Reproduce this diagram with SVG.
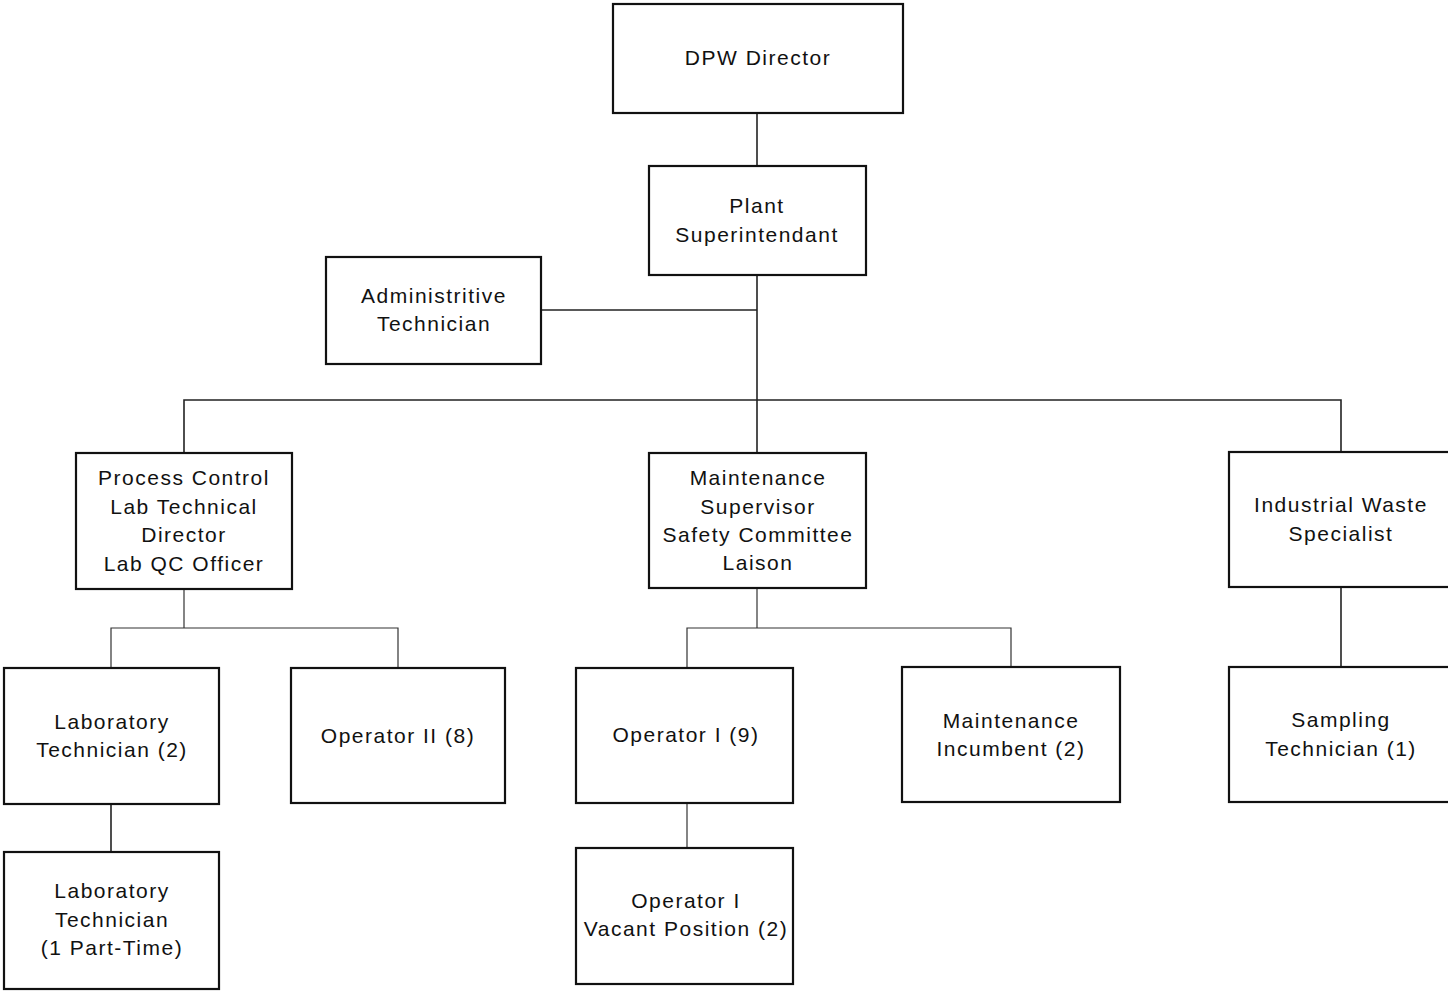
<svg xmlns="http://www.w3.org/2000/svg" width="1448" height="991" viewBox="0 0 1448 991">
<style>
.box{fill:#fff;stroke:#111;stroke-width:2.2}
.t{font-family:"Liberation Sans",Arial,sans-serif;font-size:21px;letter-spacing:1.5px;fill:#111;text-anchor:middle}
.c{fill:none;stroke:#222;stroke-width:1.6}
.c2{fill:none;stroke:#333;stroke-width:1.2}
</style>
<rect width="1448" height="991" fill="#fff"/>
<g id="connectors">
<path class="c" d="M757 113V453"/>
<path class="c" d="M541 310H757"/>
<path class="c" d="M184 453V400H1341V452"/>
<path class="c2" d="M184 589V628"/>
<path class="c2" d="M111 668V628H398V668"/>
<path class="c" d="M111 804V852"/>
<path class="c2" d="M757 588V628"/>
<path class="c2" d="M687 668V628H1011V667"/>
<path class="c2" d="M687 803V848"/>
<path class="c" d="M1341 587V667"/>
</g>
<g id="dpw-director"><rect class="box" x="613" y="4" width="290" height="109"/><text class="t" x="758" y="65">DPW Director</text></g>
<g id="plant-superintendant"><rect class="box" x="649" y="166" width="217" height="109"/><text class="t" x="757" y="213">Plant</text><text class="t" x="757" y="242">Superintendant</text></g>
<g id="administrative-technician"><rect class="box" x="326" y="257" width="215" height="107"/><text class="t" x="434" y="303">Administritive</text><text class="t" x="434" y="331">Technician</text></g>
<g id="process-control"><rect class="box" x="76" y="453" width="216" height="136"/><text class="t" x="184" y="485">Process Control</text><text class="t" x="184" y="514">Lab Technical</text><text class="t" x="184" y="542">Director</text><text class="t" x="184" y="571">Lab QC Officer</text></g>
<g id="maintenance-supervisor"><rect class="box" x="649" y="453" width="217" height="135"/><text class="t" x="758" y="485">Maintenance</text><text class="t" x="758" y="514">Supervisor</text><text class="t" x="758" y="542">Safety Committee</text><text class="t" x="758" y="570">Laison</text></g>
<g id="industrial-waste-specialist"><rect class="box" x="1229" y="452" width="224" height="135"/><text class="t" x="1341" y="512">Industrial Waste</text><text class="t" x="1341" y="541">Specialist</text></g>
<g id="laboratory-technician-2"><rect class="box" x="4" y="668" width="215" height="136"/><text class="t" x="112" y="729">Laboratory</text><text class="t" x="112" y="757">Technician (2)</text></g>
<g id="operator-ii"><rect class="box" x="291" y="668" width="214" height="135"/><text class="t" x="398" y="743">Operator II (8)</text></g>
<g id="operator-i-9"><rect class="box" x="576" y="668" width="217" height="135"/><text class="t" x="686" y="742">Operator I (9)</text></g>
<g id="maintenance-incumbent"><rect class="box" x="902" y="667" width="218" height="135"/><text class="t" x="1011" y="728">Maintenance</text><text class="t" x="1011" y="756">Incumbent (2)</text></g>
<g id="sampling-technician"><rect class="box" x="1229" y="667" width="224" height="135"/><text class="t" x="1341" y="727">Sampling</text><text class="t" x="1341" y="756">Technician (1)</text></g>
<g id="laboratory-technician-pt"><rect class="box" x="4" y="852" width="215" height="137"/><text class="t" x="112" y="898">Laboratory</text><text class="t" x="112" y="927">Technician</text><text class="t" x="112" y="955">(1 Part-Time)</text></g>
<g id="operator-i-vacant"><rect class="box" x="576" y="848" width="217" height="136"/><text class="t" x="686" y="908">Operator I</text><text class="t" x="686" y="936">Vacant Position (2)</text></g>
</svg>
